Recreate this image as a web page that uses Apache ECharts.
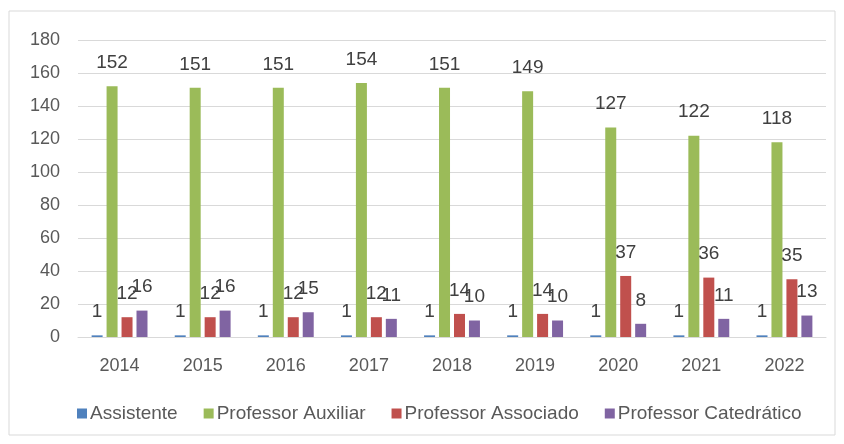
<!DOCTYPE html>
<html>
<head>
<meta charset="utf-8">
<script src="https://cdn.jsdelivr.net/npm/echarts@6/dist/echarts.min.js"></script>
<style>
  html, body { margin: 0; padding: 0; background: #fff; }
  #chart { width: 844px; height: 444px; }
</style>
</head>
<body>
<div id="chart"></div>
<script>
const years = ['2014', '2015', '2016', '2017', '2018', '2019', '2020', '2021', '2022'];
const assistente = [1, 1, 1, 1, 1, 1, 1, 1, 1];
const auxiliar = [152, 151, 151, 154, 151, 149, 127, 122, 118];
const associado = [12, 12, 12, 12, 14, 14, 37, 36, 35];
const catedratico = [16, 16, 15, 11, 10, 10, 8, 11, 13];

const font = 'Liberation Sans';

const chart = echarts.init(document.getElementById('chart'));

const mkSeries = (name, data, color) => ({
  name,
  type: 'bar',
  data,
  barWidth: 11,
  barGap: '36%',
  itemStyle: { color },
  label: {
    show: true,
    position: 'top',
    distance: 14,
    color: '#404040',
    fontSize: 19,
    fontFamily: font
  }
});

chart.setOption({
  animation: false,
  graphic: [{
    type: 'rect',
    shape: { x: 9, y: 11, width: 826, height: 424 },
    style: { fill: 'none', stroke: '#D9D9D9', lineWidth: 1 }
  }],
  grid: { left: 78, right: 18, top: 40, bottom: 107 },
  legend: {
    bottom: 16,
    left: 72,
    itemWidth: 10,
    itemHeight: 10,
    itemGap: 26,
    icon: 'rect',
    textStyle: { color: '#595959', fontSize: 19, fontFamily: font, padding: [0, 0, 0, -2] },
    data: ['Assistente', 'Professor Auxiliar', 'Professor Associado', 'Professor Catedrático']
  },
  xAxis: {
    type: 'category',
    data: years,
    axisLine: { lineStyle: { color: '#D9D9D9' } },
    axisTick: { show: false },
    axisLabel: { color: '#595959', fontSize: 18, fontFamily: font, margin: 20 }
  },
  yAxis: {
    type: 'value',
    min: 0,
    max: 180,
    interval: 20,
    axisLine: { show: false },
    axisTick: { show: false },
    splitLine: { lineStyle: { color: '#D9D9D9' } },
    axisLabel: { color: '#595959', fontSize: 18, fontFamily: font, margin: 18 }
  },
  series: [
    mkSeries('Assistente', assistente, '#4F81BD'),
    mkSeries('Professor Auxiliar', auxiliar, '#9BBB59'),
    mkSeries('Professor Associado', associado, '#C0504D'),
    mkSeries('Professor Catedrático', catedratico, '#8064A2')
  ]
});
</script>
</body>
</html>
